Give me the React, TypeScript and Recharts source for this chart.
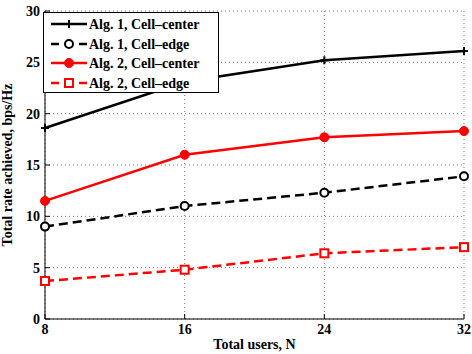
import { LineChart, Line, XAxis, YAxis, CartesianGrid, Legend } from 'recharts';

const users = [8, 16, 24, 32];
const alg1Center = [18.6, 23.1, 25.2, 26.1];
const alg1Edge = [9.0, 11.0, 12.3, 13.9];
const alg2Center = [11.5, 16.0, 17.7, 18.3];
const alg2Edge = [3.7, 4.8, 6.4, 7.0];

const xTicks = [8, 16, 24, 32];
const yTicks = [0, 5, 10, 15, 20, 25, 30];

const FONT = "'Liberation Serif', 'Times New Roman', serif";

const data = users.map((n, i) => ({
  n,
  a1c: alg1Center[i],
  a1e: alg1Edge[i],
  a2c: alg2Center[i],
  a2e: alg2Edge[i],
}));

type MarkerKind = 'plus' | 'circle' | 'dot' | 'square';

function Marker({ kind, cx, cy }: { kind: MarkerKind; cx: number; cy: number }) {
  if (kind === 'plus') {
    return (
      <g stroke="#000" strokeWidth={2}>
        <line x1={cx - 4} y1={cy} x2={cx + 4} y2={cy} />
        <line x1={cx} y1={cy - 4} x2={cx} y2={cy + 4} />
      </g>
    );
  }
  if (kind === 'circle') {
    return <circle cx={cx} cy={cy} r={4} fill="#fff" stroke="#000" strokeWidth={2} />;
  }
  if (kind === 'dot') {
    return <circle cx={cx} cy={cy} r={4.5} fill="#ff0000" stroke="#ff0000" strokeWidth={1} />;
  }
  return <rect x={cx - 4} y={cy - 4} width={8} height={8} fill="#fff" stroke="#ff0000" strokeWidth={2} />;
}

const dotFor = (kind: MarkerKind) => (props: any) => (
  <Marker key={`${kind}-${props.index}`} kind={kind} cx={props.cx} cy={props.cy} />
);

const series = [
  { key: 'a1c', name: 'Alg. 1, Cell\u2013center', color: '#000', dash: undefined, marker: 'plus' as MarkerKind },
  { key: 'a1e', name: 'Alg. 1, Cell\u2013edge', color: '#000', dash: '9 5', marker: 'circle' as MarkerKind },
  { key: 'a2c', name: 'Alg. 2, Cell\u2013center', color: '#ff0000', dash: undefined, marker: 'dot' as MarkerKind },
  { key: 'a2e', name: 'Alg. 2, Cell\u2013edge', color: '#ff0000', dash: '9 5', marker: 'square' as MarkerKind },
];

const BottomTick = (props: any) => {
  const { x, y, payload } = props;
  return (
    <g>
      <line x1={x} y1={y} x2={x} y2={y - 5} stroke="#000" />
      <text x={x} y={y + 15} textAnchor="middle" fontFamily={FONT} fontWeight="bold" fontSize={14} fill="#000">
        {payload.value}
      </text>
    </g>
  );
};

const TopTick = (props: any) => {
  const { x, y } = props;
  return <line x1={x} y1={y} x2={x} y2={y + 5} stroke="#000" />;
};

const LeftTick = (props: any) => {
  const { x, y, payload } = props;
  return (
    <g>
      <line x1={x} y1={y} x2={x + 5} y2={y} stroke="#000" />
      <text x={x - 5} y={y + 5} textAnchor="end" fontFamily={FONT} fontWeight="bold" fontSize={14} fill="#000">
        {payload.value}
      </text>
    </g>
  );
};

const RightTick = (props: any) => {
  const { x, y } = props;
  return <line x1={x} y1={y} x2={x - 5} y2={y} stroke="#000" />;
};

function LegendBox() {
  const rowY = [12, 32, 51, 71];
  return (
    <svg width={176} height={81} style={{ display: 'block' }}>
      <rect x={0.5} y={0.5} width={175} height={80} fill="#fff" stroke="#000" strokeWidth={1} />
      {series.map((s, i) => (
        <g key={s.key}>
          <line
            x1={8}
            y1={rowY[i]}
            x2={44}
            y2={rowY[i]}
            stroke={s.color}
            strokeWidth={2.5}
            strokeDasharray={s.dash ? '8 20' : undefined}
          />
          <Marker kind={s.marker} cx={26} cy={rowY[i]} />
          <text x={46} y={rowY[i] + 5} fontFamily={FONT} fontWeight="bold" fontSize={14} fill="#000">
            {s.name}
          </text>
        </g>
      ))}
    </svg>
  );
}

export default function App() {
  return (
    <div style={{ position: 'absolute', left: 0, top: 0, background: '#fff' }}>
      <LineChart width={472} height={354} data={data} margin={{ top: 11, right: 8, bottom: 0, left: 0 }}>
        <CartesianGrid stroke="#777" strokeDasharray="1 3" horizontalValues={yTicks} verticalValues={xTicks} />
        <XAxis
          dataKey="n"
          type="number"
          domain={[8, 32]}
          ticks={xTicks}
          height={35}
          tickSize={0}
          tickMargin={0}
          tickLine={false}
          tick={<BottomTick />}
          axisLine={{ stroke: '#000', strokeWidth: 1 }}
          label={{
            content: (p: any) => {
              const vb = p.viewBox;
              return (
                <text x={vb.x + vb.width / 2} y={vb.y + 30} textAnchor="middle" fontFamily={FONT} fontWeight="bold" fontSize={14} fill="#000">
                  Total users, N
                </text>
              );
            },
          }}
        />
        <XAxis
          xAxisId="top"
          orientation="top"
          dataKey="n"
          type="number"
          domain={[8, 32]}
          ticks={xTicks}
          height={0}
          tickSize={0}
          tickMargin={0}
          tickLine={false}
          tick={<TopTick />}
          axisLine={{ stroke: '#000', strokeWidth: 1 }}
        />
        <YAxis
          type="number"
          domain={[0, 30]}
          ticks={yTicks}
          width={45}
          tickSize={0}
          tickMargin={0}
          tickLine={false}
          tick={<LeftTick />}
          axisLine={{ stroke: '#000', strokeWidth: 1 }}
          label={{
            content: (p: any) => {
              const vb = p.viewBox;
              const cx = vb.x + 12;
              const cy = vb.y + vb.height / 2;
              return (
                <text x={cx} y={cy} transform={`rotate(-90 ${cx} ${cy})`} textAnchor="middle" fontFamily={FONT} fontWeight="bold" fontSize={14} fill="#000">
                  Total rate achieved, bps/Hz
                </text>
              );
            },
          }}
        />
        <YAxis
          yAxisId="right"
          orientation="right"
          type="number"
          domain={[0, 30]}
          ticks={yTicks}
          width={0}
          tickSize={0}
          tickMargin={0}
          tickLine={false}
          tick={<RightTick />}
          axisLine={{ stroke: '#000', strokeWidth: 1 }}
        />
        {series.map((s) => (
          <Line
            key={s.key}
            dataKey={s.key}
            name={s.name}
            type="linear"
            stroke={s.color}
            strokeWidth={2.5}
            strokeDasharray={s.dash}
            dot={dotFor(s.marker)}
            activeDot={false}
            isAnimationActive={false}
          />
        ))}
        <Legend
          layout="vertical"
          align="center"
          verticalAlign="middle"
          content={() => <LegendBox />}
          wrapperStyle={{ position: 'absolute', left: 43, top: 12, width: 176, height: 81 }}
        />
      </LineChart>
    </div>
  );
}
